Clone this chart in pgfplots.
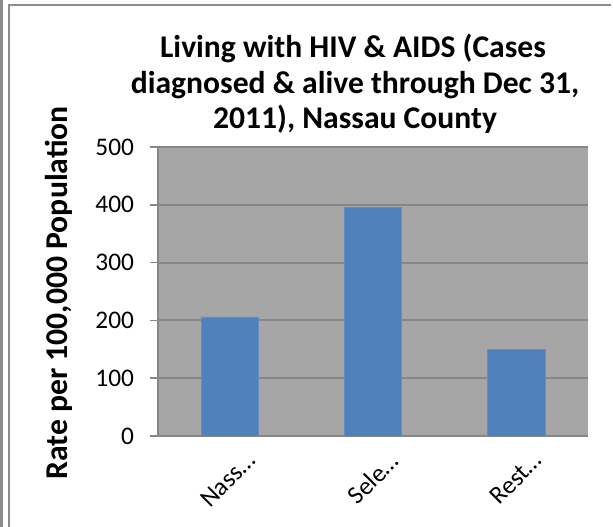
\documentclass[border=0pt]{standalone}
\usepackage{fontspec}
\setmainfont{Carlito}
\usepackage{pgfplots}
\pgfplotsset{compat=1.18}

\definecolor{plotbg}{HTML}{A6A6A6}
\definecolor{gridgray}{HTML}{868686}
\definecolor{barblue}{HTML}{4F81BD}
\definecolor{framegray}{HTML}{8C8C8C}

% one reference pixel
\def\px{0.75pt}
\newcommand\tickfont{\fontsize{19pt}{22pt}\selectfont}

\begin{document}
\begin{tikzpicture}
\begin{scope}[x=\px, y=\px]
\path[use as bounding box] (0,0) rectangle (613,527);

% outer frame
\draw[framegray, line width=2] (1.5,0) -- (1.5,527);
\draw[framegray, line width=1.5] (8.5,0) -- (8.5,522) -- (611,522);

% title
\begin{scope}[font=\fontsize{23.7pt}{27pt}\selectfont\bfseries]
  \node[anchor=base] at (353, 527-57.5) {Living with HIV \& AIDS (Cases};
  \node[anchor=base] at (355, 527-93.3) {diagnosed \& alive through Dec 31,};
  \node[anchor=base] at (355, 527-128.3) {2011), Nassau County};
\end{scope}

% y label
\node[rotate=90, anchor=base, font=\fontsize{23.8pt}{26pt}\selectfont\bfseries]
  at (67, 527-293) {Rate per 100,000 Population};
\end{scope}

\begin{axis}[
  at={(118.5pt, 68.25pt)}, anchor=south west,
  scale only axis, width=322.5pt, height=216.75pt,
  ymin=0, ymax=500, ytick={0,100,200,300,400,500},
  xmin=-0.5, xmax=2.5,
  xtick={0,1,2},
  xticklabels={Nass…, Sele…, Rest…},
  minor xtick={-0.5,0.5,1.5,2.5},
  axis x line*=bottom, axis y line*=left,
  axis line style={gridgray, line width=1.2pt, -},
  axis background/.style={fill=plotbg},
  ymajorgrids, grid style={gridgray, line width=1.5pt},
  tick align=outside,
  major tick length=6pt, minor tick length=6pt,
  xtick style={draw=none},
  minor x tick style={gridgray, line width=1.2pt},
  ytick style={gridgray, line width=1.2pt},
  /pgf/number format/assume math mode=true,
  tick label style={font=\tickfont},
  yticklabel style={xshift=-8.5pt},
  xticklabel style={rotate=45, anchor=east, xshift=8pt, yshift=-18pt},
  ybar, bar width=0.4,
]
\addplot[fill=barblue, draw=barblue!90!white] coordinates {(0,206) (1,395) (2,150)};
\end{axis}
\end{tikzpicture}
\end{document}
